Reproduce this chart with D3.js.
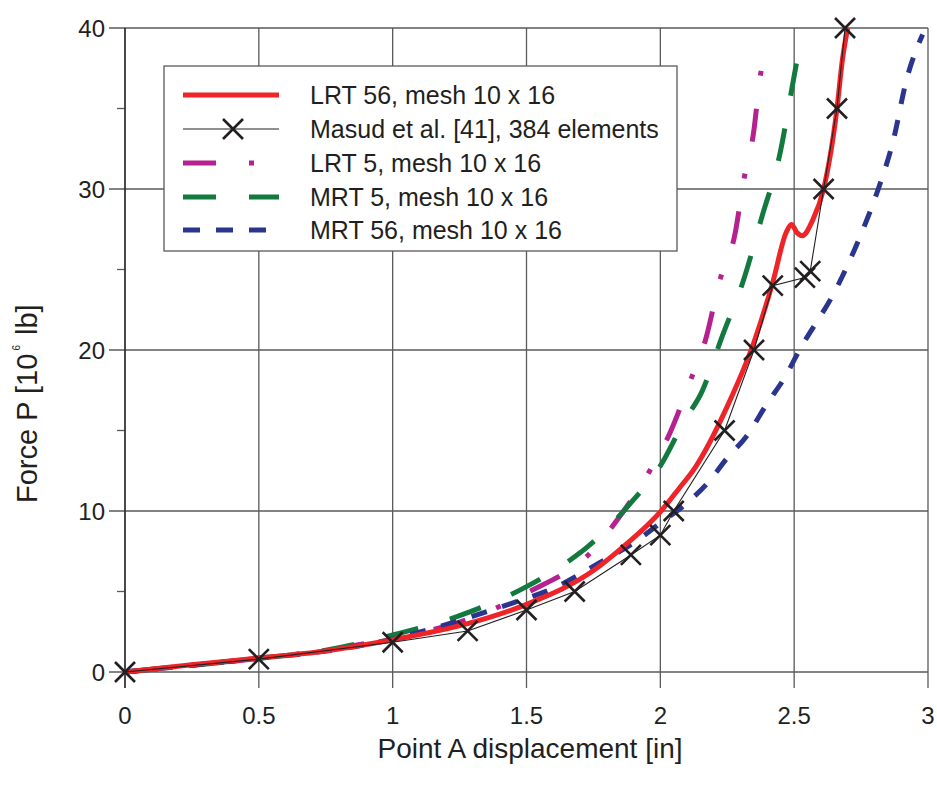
<!DOCTYPE html>
<html>
<head>
<meta charset="utf-8">
<script src="https://cdn.jsdelivr.net/npm/d3@7"></script>
<style>
  html, body { margin: 0; padding: 0; background: #fff; }
  svg { display: block; }
  text { font-family: "Liberation Sans", Arial, sans-serif; fill: #231f20; }
</style>
</head>
<body>
<svg id="chart" width="937" height="787"></svg>
<script>
// ---- Data ----
const xTicks = [0, 0.5, 1, 1.5, 2, 2.5, 3];
const xTickLabels = ["0", "0.5", "1", "1.5", "2", "2.5", "3"];
const yTicks = [0, 10, 20, 30, 40];
const yMinorTicks = [5, 15, 25, 35];

// LRT 56, mesh 10 x 16
const lrt56X = [0, 0.25, 0.5, 0.72, 1.0, 1.28, 1.5, 1.75, 1.86, 1.96, 2.0, 2.07, 2.13, 2.25, 2.35, 2.42, 2.47, 2.49, 2.51, 2.53, 2.57, 2.61, 2.66, 2.68, 2.70];
const lrt56Y = [0, 0.45, 0.87, 1.24, 2.0, 3.0, 4.2, 6.3, 7.76, 9.25, 9.95, 11.4, 12.7, 16.5, 20.5, 24.2, 27.3, 27.8, 27.3, 27.1, 28.1, 30.0, 35.0, 38.0, 40.0];

// Masud et al. [41], 384 elements
const masudX = [0, 0.5, 1.0, 1.28, 1.5, 1.68, 1.89, 2.0, 2.05, 2.24, 2.35, 2.42, 2.54, 2.56, 2.61, 2.66, 2.69];
const masudY = [0, 0.8, 1.85, 2.55, 3.85, 5.0, 7.27, 8.5, 10.0, 15.0, 20.0, 24.0, 24.5, 24.9, 30.0, 35.0, 40.0];

// LRT 5, mesh 10 x 16
const lrt5X = [0, 0.5, 0.75, 1.0, 1.25, 1.5, 1.75, 1.85, 1.95, 2.04, 2.11, 2.17, 2.22, 2.28, 2.31, 2.35, 2.37, 2.40];
const lrt5Y = [0, 0.85, 1.35, 2.1, 3.1, 4.9, 7.6, 9.7, 12.2, 15.0, 18.0, 20.7, 24.2, 27.3, 30.4, 33.7, 36.6, 39.3];

// MRT 5, mesh 10 x 16
const mrt5X = [0, 0.5, 0.75, 1.0, 1.25, 1.5, 1.65, 1.73, 1.9, 2.0, 2.09, 2.155, 2.23, 2.31, 2.38, 2.447, 2.49, 2.53];
const mrt5Y = [0, 0.85, 1.35, 2.3, 3.5, 5.3, 6.8, 7.8, 10.7, 12.8, 15.6, 17.4, 20.8, 24.3, 28.3, 32.2, 36.1, 39.8];

// MRT 56, mesh 10 x 16
const mrt56X = [0, 0.5, 0.75, 1.0, 1.25, 1.45, 1.6, 1.775, 1.905, 2.0, 2.1, 2.18, 2.25, 2.32, 2.40, 2.465, 2.52, 2.66, 2.745, 2.81, 2.87, 2.92, 2.98];
const mrt56Y = [0, 0.85, 1.3, 2.05, 3.2, 4.3, 5.2, 6.8, 8.07, 9.25, 10.5, 11.8, 13.3, 14.6, 16.7, 18.3, 20.0, 23.9, 27.0, 29.8, 33.0, 36.8, 39.6];

const legendLabels = ["LRT 56, mesh 10 x 16", "Masud et al. [41], 384 elements", "LRT 5, mesh 10 x 16", "MRT 5, mesh 10 x 16", "MRT 56, mesh 10 x 16"];

// ---- Layout ----
const svg = d3.select("#chart");
const L = 125, R = 928, T = 28, B = 672;
const x = d3.scaleLinear().domain([0, 3]).range([L, R]);
const y = d3.scaleLinear().domain([0, 40]).range([B, T]);
const gridColor = "#5a5a5a";

const zip = (xs, ys) => xs.map((v, i) => [v, ys[i]]);

// Grid lines (extend outside as ticks)
const g = svg.append("g");
g.selectAll("line.vg").data(xTicks).join("line")
  .attr("x1", d => x(d)).attr("x2", d => x(d))
  .attr("y1", T).attr("y2", B + 16)
  .attr("stroke", gridColor).attr("stroke-width", 1.3);
g.selectAll("line.hg").data(yTicks).join("line")
  .attr("x1", L - 16).attr("x2", R)
  .attr("y1", d => y(d)).attr("y2", d => y(d))
  .attr("stroke", gridColor).attr("stroke-width", 1.3);
g.selectAll("line.mt").data(yMinorTicks).join("line")
  .attr("x1", L - 8).attr("x2", L)
  .attr("y1", d => y(d)).attr("y2", d => y(d))
  .attr("stroke", gridColor).attr("stroke-width", 1.3);
g.append("line").attr("x1", x(0)).attr("x2", x(0)).attr("y1", T).attr("y2", B + 16)
  .attr("stroke", "#231f20").attr("stroke-width", 1.3);

// Tick labels
svg.append("g").selectAll("text").data(xTicks).join("text")
  .attr("x", d => x(d)).attr("y", 724)
  .attr("text-anchor", "middle").attr("font-size", 24)
  .text((d, i) => xTickLabels[i]);
svg.append("g").selectAll("text").data(yTicks).join("text")
  .attr("x", 105).attr("y", d => y(d) + 8.5)
  .attr("text-anchor", "end").attr("font-size", 24)
  .text(d => d);

// Axis titles
svg.append("text").attr("x", 530).attr("y", 758)
  .attr("text-anchor", "middle").attr("font-size", 28)
  .text("Point A displacement [in]");
const yl = svg.append("text")
  .attr("transform", "translate(37,503) rotate(-90)")
  .attr("text-anchor", "start").attr("font-size", 29);
yl.append("tspan").text("Force P [10");
yl.append("tspan").attr("font-size", 10).attr("dy", -17).attr("dx", 3).text("6");
yl.append("tspan").attr("dy", 17).attr("dx", 2).text(" lb]");

// Series
const line = d3.line().x(d => x(d[0])).y(d => y(d[1])).curve(d3.curveMonotoneX);
const series = [
  { data: zip(lrt5X, lrt5Y), color: "#b5218f", dash: "33,33,5,33", w: 5 },
  { data: zip(mrt5X, mrt5Y), color: "#137a3f", dash: "33,33", w: 5 },
  { data: zip(mrt56X, mrt56Y), color: "#2b3590", dash: "16,16", w: 5 },
  { data: zip(lrt56X, lrt56Y), color: "#ee2429", dash: null, w: 5 }
];
const sg = svg.append("g");
series.forEach(s => {
  sg.append("path").datum(s.data)
    .attr("d", line).attr("fill", "none")
    .attr("stroke", s.color).attr("stroke-width", s.w)
    .attr("stroke-dasharray", s.dash);
});

// Masud line + X markers
const masud = zip(masudX, masudY);
sg.append("path").datum(masud)
  .attr("d", d3.line().x(d => x(d[0])).y(d => y(d[1])))
  .attr("fill", "none").attr("stroke", "#231f20").attr("stroke-width", 1.1);
sg.selectAll("path.mk").data(masud).join("path")
  .attr("transform", d => `translate(${x(d[0])},${y(d[1])})`)
  .attr("d", "M-10,-10L10,10M-10,10L10,-10")
  .attr("fill", "none").attr("stroke", "#231f20").attr("stroke-width", 2.6);

// Legend
const lg = svg.append("g");
lg.append("rect").attr("x", 164).attr("y", 66).attr("width", 513).attr("height", 185)
  .attr("fill", "#fff").attr("stroke", gridColor).attr("stroke-width", 1.3);
const rowsY = [95, 129, 163, 197, 230];
const legendStyles = [
  { color: "#ee2429", dash: null, w: 5 },
  { color: "#231f20", dash: null, w: 1.1, marker: true },
  { color: "#b5218f", dash: "33,33,5,33", w: 5 },
  { color: "#137a3f", dash: "33,33", w: 5 },
  { color: "#2b3590", dash: "17,16", w: 5 }
];
legendLabels.forEach((lab, i) => {
  const st = legendStyles[i];
  lg.append("line").attr("x1", 183).attr("x2", 279)
    .attr("y1", rowsY[i]).attr("y2", rowsY[i])
    .attr("stroke", st.color).attr("stroke-width", st.w)
    .attr("stroke-dasharray", st.dash);
  if (st.marker) {
    lg.append("path").attr("transform", `translate(233,${rowsY[i]})`)
      .attr("d", "M-10,-10L10,10M-10,10L10,-10")
      .attr("fill", "none").attr("stroke", "#231f20").attr("stroke-width", 2.6);
  }
  lg.append("text").attr("x", 310).attr("y", rowsY[i] + 9)
    .attr("font-size", 25).text(lab);
});
</script>
</body>
</html>
